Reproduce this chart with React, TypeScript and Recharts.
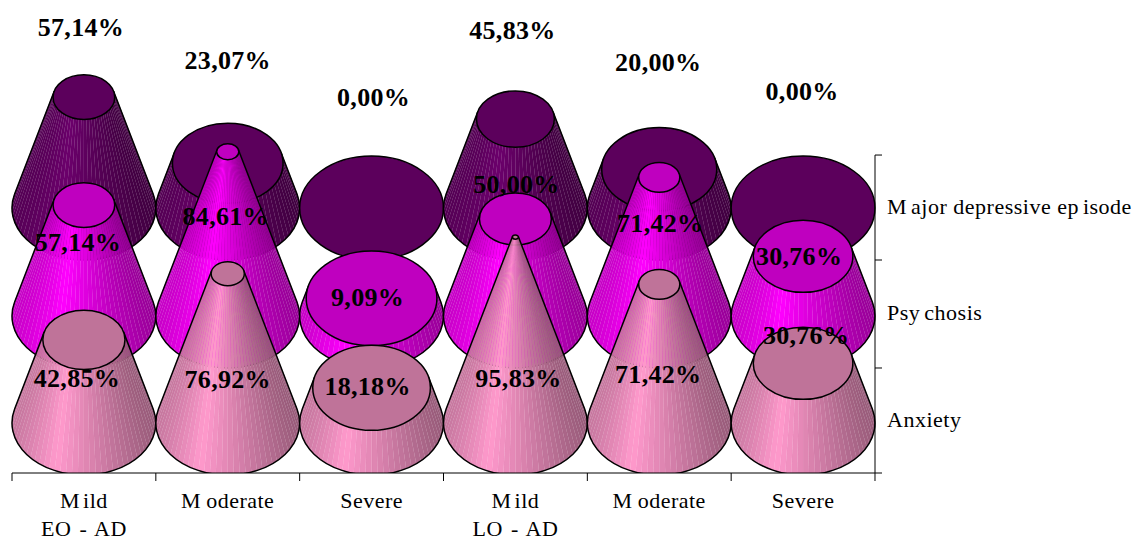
import { Bar, BarChart, LabelList, XAxis, YAxis } from "recharts";

const categories = ["Mild", "Moderate", "Severe", "Mild", "Moderate", "Severe"];
const groupLabels = ["EO - AD", "", "", "LO - AD", "", ""];
const anxiety = [42.85, 76.92, 18.18, 95.83, 71.42, 30.76];
const psychosis = [57.14, 84.61, 9.09, 50.0, 71.42, 30.76];
const depressive = [57.14, 23.07, 0.0, 45.83, 20.0, 0.0];
const seriesTicks = ["Anxiety", "Psychosis", "Major depressive episode"];

const chartData = categories.map((name, i) => ({
  name,
  group: groupLabels[i],
  anxiety: anxiety[i],
  psychosis: psychosis[i],
  depressive: depressive[i],
}));

// one percent of cone height in pixels, the three cones sit on separate floors
const PX = 1.94;
const FLOOR_ANX = 0;
const FLOOR_PSY = 55.15;
const FLOOR_DEP = 110.8;
const Y_DOMAIN = [-25.77, 218];
const AXIS_TICKS = [-25.77, 28.35, 84, 138.1];
const BASE_RY = 52;
const FONT = "'Liberation Serif', 'Times New Roman', serif";

// hand placed data labels, same as in the source picture
const NUDGE_ANX = [[-7, 39], [0, 105.5], [-4, -1], [3, 141], [-1, 90.5], [3, -27.6]];
const NUDGE_PSY = [[-6, 37], [-2, 65], [-4, -1], [1, -34], [1, 46.5], [-4, 0]];
const NUDGE_DEP = [[-3, -70], [0, -102.5], [2, -111], [-3, -89], [-1, -106.4], [-1, -117]];

// the source renderer leaves odd gaps after some glyphs
const GAPS: Record<string, string> = {
  Mild: "0 3",
  Moderate: "0 5",
  "EO - AD": "0 0 2 0 2",
  "LO - AD": "0 0 2 0 2",
  Psychosis: "0 0 0 4",
  "Major depressive episode": "0 4 0 0 0 0 0 0 0 0 0 0 0 0 0 0 0 0 0 4",
};

function shadeAt(t: number) {
  if (t < 0.3) return 0.78 + (t / 0.3) * 0.22;
  return 1 - ((t - 0.3) / 0.7) * 0.4;
}

function rgb(c: number[], k: number) {
  return `rgb(${c.map((v) => Math.round(v * k)).join(",")})`;
}

function ellipsePath(cx: number, cy: number, rx: number, ry: number) {
  return `M${cx - rx},${cy}A${rx},${ry} 0 1 0 ${cx + rx},${cy}A${rx},${ry} 0 1 0 ${cx - rx},${cy}Z`;
}

const coneShape = (values: number[], color: number[], lid: string) => (props: any) => {
  const { x, y, width, height, index } = props;
  const v = values[index];
  const cx = x + width / 2 + 0.4;
  const baseY = y + height;
  const rx = width / 2 + 0.4;
  const k = 1 - v / 100;
  const topRx = rx * k;
  const topRy = BASE_RY * k;
  const lidEl = <path d={ellipsePath(cx, y, topRx, topRy)} fill={lid} stroke="#000" strokeWidth={1.5} />;
  if (v === 0) return <g>{lidEl}</g>;

  const t0 = Math.asin(BASE_RY / (PX * 100));
  const start = -t0;
  const end = Math.PI + t0;
  const count = 44;
  const pt = (a: number, top: boolean) =>
    top
      ? [cx + topRx * Math.cos(a), y + topRy * Math.sin(a)]
      : [cx + rx * Math.cos(a), baseY + BASE_RY * Math.sin(a)];

  const facets = [];
  for (let i = 0; i < count; i++) {
    const a = start + ((end - start) * i) / count;
    const b = start + ((end - start) * (i + 1)) / count;
    const p = [pt(a, true), pt(a, false), pt(b, false), pt(b, true)];
    const t = (Math.cos((a + b) / 2) + 1) / 2;
    const fill = rgb(color, shadeAt(t));
    facets.push(
      <polygon
        key={i}
        points={p.map((q) => q.join(",")).join(" ")}
        fill={fill}
        stroke={fill}
        strokeWidth={0.2}
      />
    );
  }
  const s = pt(start, true);
  const e = pt(end, true);
  const sb = pt(start, false);
  const eb = pt(end, false);
  const outline = `M${s[0]},${s[1]}L${sb[0]},${sb[1]}A${rx},${BASE_RY} 0 1 1 ${eb[0]},${eb[1]}L${e[0]},${e[1]}`;
  return (
    <g>
      {facets}
      <path d={outline} fill="none" stroke="#000" strokeWidth={1.5} />
      {lidEl}
    </g>
  );
};

const coneLabel = (values: number[], nudge: number[][]) => (props: any) => {
  const { x, y, width, index } = props;
  return (
    <text
      x={x + width / 2 + 0.4 + nudge[index][0]}
      y={y + nudge[index][1]}
      textAnchor="middle"
      dominantBaseline="central"
      fontFamily={FONT}
      fontWeight="bold"
      fontSize={26}
      letterSpacing={0.3}
      fill="#000"
    >
      {values[index].toFixed(2).replace(".", ",") + "%"}
    </text>
  );
};

const axisText = (label: string, x: number, y: number, anchor: "middle" | "start") => (
  <text
    x={x}
    y={y}
    dx={GAPS[label]}
    textAnchor={anchor}
    fontFamily={FONT}
    fontSize={22}
    letterSpacing={0.5}
    fill="#000"
  >
    {label}
  </text>
);

const CategoryTick = (props: any) => {
  const { x, index, payload } = props;
  const band = 143.83;
  const row = chartData[index];
  return (
    <g>
      <line x1={x - band / 2} x2={x - band / 2} y1={473} y2={481} stroke="#000" />
      {index === chartData.length - 1 ? (
        <line x1={x + band / 2} x2={x + band / 2} y1={473} y2={481} stroke="#000" />
      ) : null}
      {axisText(payload.value, x, 508, "middle")}
      {row?.group ? axisText(row.group, x, 536, "middle") : null}
    </g>
  );
};

const SeriesTick = (props: any) => {
  const { y, payload } = props;
  const i = AXIS_TICKS.indexOf(payload.value);
  const next = AXIS_TICKS[i + 1];
  const step = next === undefined ? 0 : (next - payload.value) * PX;
  return (
    <g>
      <line x1={875} x2={882} y1={y} y2={y} stroke="#000" />
      {step ? <line x1={875} x2={875} y1={y} y2={y - step} stroke="#000" /> : null}
      {step ? axisText(seriesTicks[i], 887, y - step / 2 + 6, "start") : null}
    </g>
  );
};

export default function App() {
  return (
    <div style={{ position: "absolute", left: 0, top: 0, width: 1139, height: 541, background: "#fff" }}>
      <BarChart
        width={1139}
        height={541}
        data={chartData}
        margin={{ top: 0, right: 0, bottom: 0, left: 12 }}
        barCategoryGap={0}
        barGap={-143}
        barSize={143}
      >
        <XAxis
          dataKey="name"
          height={68}
          interval={0}
          tickLine={false}
          axisLine={{ stroke: "#000" }}
          tick={<CategoryTick />}
        />
        <YAxis
          orientation="right"
          width={264}
          type="number"
          domain={Y_DOMAIN}
          ticks={AXIS_TICKS}
          allowDataOverflow
          axisLine={false}
          tickLine={false}
          tick={<SeriesTick />}
        />
        <Bar
          dataKey={(d: any) => [FLOOR_DEP, FLOOR_DEP + d.depressive]}
          isAnimationActive={false}
          shape={coneShape(depressive, [108, 0, 108], "#5c005c")}
        >
          <LabelList content={coneLabel(depressive, NUDGE_DEP)} />
        </Bar>
        <Bar
          dataKey={(d: any) => [FLOOR_PSY, FLOOR_PSY + d.psychosis]}
          isAnimationActive={false}
          shape={coneShape(psychosis, [255, 0, 255], "#bf00bf")}
        >
          <LabelList content={coneLabel(psychosis, NUDGE_PSY)} />
        </Bar>
        <Bar
          dataKey={(d: any) => [FLOOR_ANX, FLOOR_ANX + d.anxiety]}
          isAnimationActive={false}
          shape={coneShape(anxiety, [255, 153, 204], "#bf7399")}
        >
          <LabelList content={coneLabel(anxiety, NUDGE_ANX)} />
        </Bar>
      </BarChart>
    </div>
  );
}
